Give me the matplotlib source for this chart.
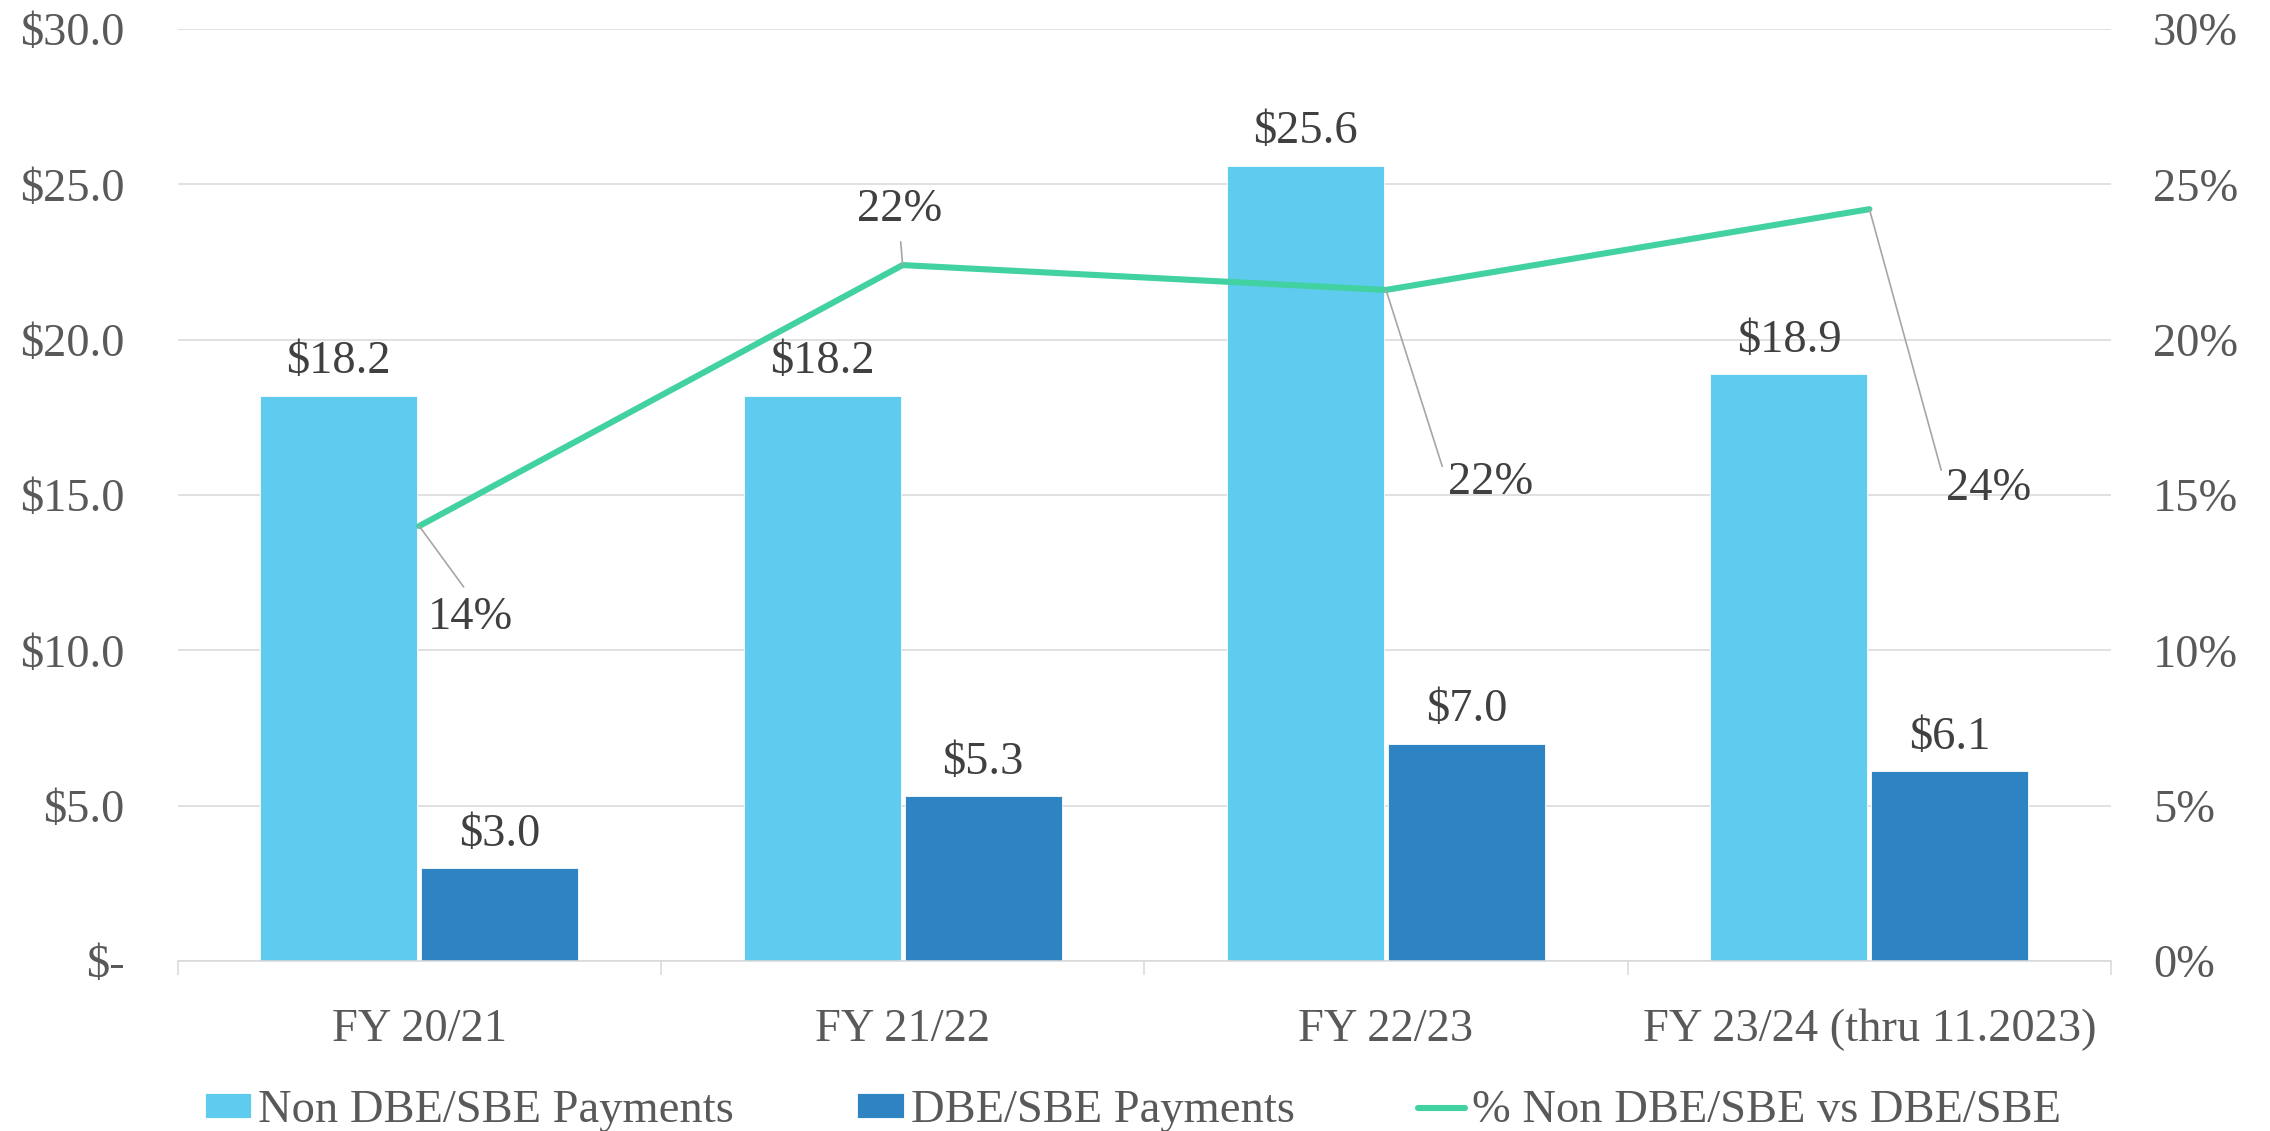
import numpy as np
import matplotlib
matplotlib.use("Agg")
import matplotlib.pyplot as plt
from matplotlib.ticker import FuncFormatter, FixedLocator

plt.rcParams['font.family'] = ['Liberation Serif', 'DejaVu Serif']
plt.rcParams['text.parse_math'] = False

# data
categories = ["FY 20/21", "FY 21/22", "FY 22/23", "FY 23/24 (thru 11.2023)"]
non_dbe = [18.2, 18.2, 25.6, 18.9]
dbe = [3.0, 5.3, 7.0, 6.1]
pct = [0.140, 0.224, 0.216, 0.242]
# label offsets (points) for the % labels, as placed in the original
pct_offsets = [(37, -66), (-2, 40), (75, -139), (86, -201)]
pct_relpos = [(0.5, 1.0), (0.5, 0.0), (0.0, 0.5), (0.0, 0.5)]

light = "#5FCBEF"
dark = "#2E83C3"
green = "#42D1A0"
grid_c = "#D9D9D9"
tick_c = "#595959"
lab_c = "#404040"
fs = 33.5

fig = plt.figure(figsize=(22.7, 11.31), dpi=100)
ax = fig.add_axes([0.0782, 0.1503, 0.9300 - 0.0782, 0.9744 - 0.1503])
ax2 = ax.twinx()

x = np.arange(len(categories))
w = 0.325
off = 0.1665
b1 = ax.bar(x - off, non_dbe, w, color=light, edgecolor="white", linewidth=0.6,
            label="Non DBE/SBE Payments", zorder=2)
b2 = ax.bar(x + off, dbe, w, color=dark, edgecolor="white", linewidth=0.6,
            label="DBE/SBE Payments", zorder=2)

for xs, vals in [(x - off, non_dbe), (x + off, dbe)]:
    for xi, v in zip(xs, vals):
        ax.annotate(f"${v:.1f}", (xi, v), xytext=(0, 16), textcoords="offset points",
                    ha="center", va="baseline", fontsize=fs, color=lab_c)

ax.set_xlim(-0.5, len(categories) - 0.5)
ax.set_ylim(0, 30)
ax.set_yticks(np.arange(0, 31, 5))
ax.yaxis.set_major_formatter(FuncFormatter(lambda v, p: "$-" if v == 0 else f"${v:.1f}"))
ax.grid(axis="y", color=grid_c, linewidth=1.1, zorder=0)
ax.set_axisbelow(True)

# category boundaries as major ticks, labels on minor ticks at centres
ax.xaxis.set_major_locator(FixedLocator(np.arange(-0.5, len(categories), 1.0)))
ax.xaxis.set_major_formatter(FuncFormatter(lambda v, p: ""))
ax.xaxis.set_minor_locator(FixedLocator(x))
ax.set_xticklabels(categories, minor=True)
ax.tick_params(axis="x", which="major", length=10, width=1.1, color=grid_c)
ax.tick_params(axis="x", which="minor", length=0, pad=34, labelsize=fs, labelcolor=tick_c)
ax.tick_params(axis="y", length=0, pad=38, labelsize=fs, labelcolor=tick_c)

for s in ["top", "left", "right"]:
    ax.spines[s].set_visible(False)
    ax2.spines[s].set_visible(False)
ax2.spines["bottom"].set_visible(False)
ax.spines["bottom"].set_color(grid_c)
ax.spines["bottom"].set_linewidth(1.1)

ln, = ax2.plot(x, pct, color=green, linewidth=4.4, solid_capstyle="round",
               label="% Non DBE/SBE vs DBE/SBE", zorder=3)
ax2.set_ylim(0, 0.30)
ax2.set_yticks(np.arange(0, 0.31, 0.05))
ax2.yaxis.set_major_formatter(FuncFormatter(lambda v, p: f"{v*100:.0f}%"))
ax2.tick_params(axis="y", length=0, pad=30, labelsize=fs, labelcolor=tick_c)
for lab in ax2.get_yticklabels():
    lab.set_horizontalalignment("left")

for xi, v, o, rp in zip(x, pct, pct_offsets, pct_relpos):
    ax2.annotate(f"{v*100:.0f}%", (xi, v), xytext=o, textcoords="offset points",
                 ha="center", va="center", fontsize=fs, color=lab_c,
                 arrowprops=dict(arrowstyle="-", color="#A6A6A6", lw=1.2,
                                 relpos=rp, shrinkA=6, shrinkB=0))

fig.legend([b1, b2, ln], [b1.get_label(), b2.get_label(), ln.get_label()],
           loc="lower center", bbox_to_anchor=(0.499, -0.038), ncol=3, frameon=False,
           fontsize=fs, labelcolor=tick_c, handlelength=1.0, handleheight=0.45,
           handletextpad=0.15, columnspacing=2.65)

fig.savefig("out.png", dpi=100)
